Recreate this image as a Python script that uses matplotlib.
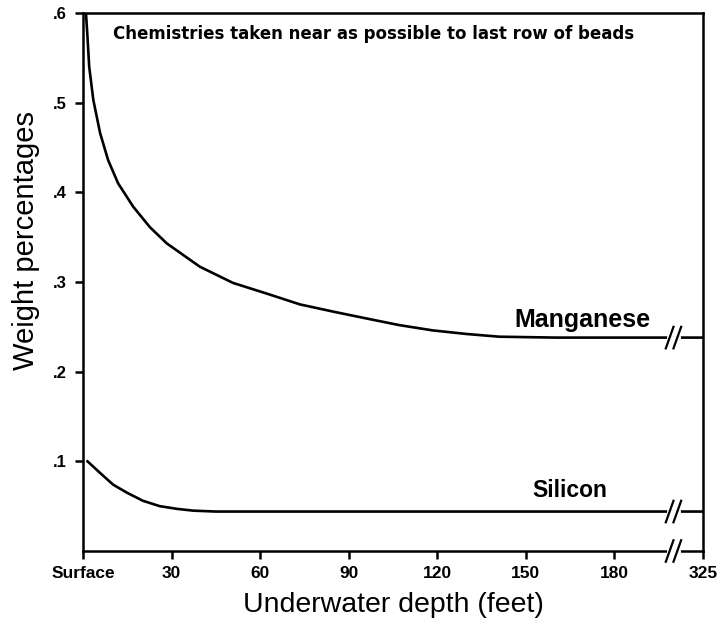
import matplotlib
matplotlib.use("Agg")
import matplotlib.pyplot as plt
import numpy as np

plt.rcParams['font.family'] = ['Liberation Sans', 'DejaVu Sans']

# depth (feet, plotted position) and weight percentages
mn_depth = [1.0, 1.45, 2.1, 3.5, 5.8, 8.5, 11.9, 17, 22.7, 28.4, 39.6, 50.8, 62.3, 73.5,
            84.7, 95, 107, 118.5, 130, 141, 160, 180, 210]
mn_value = [0.600, 0.577, 0.540, 0.503, 0.466, 0.436, 0.410, 0.384, 0.361, 0.343, 0.317,
            0.299, 0.287, 0.275, 0.267, 0.260, 0.252, 0.246, 0.242, 0.239, 0.238, 0.238, 0.238]
si_depth = [1.2, 5.8, 10.2, 14.9, 20.3, 26, 31.8, 37.3, 45, 80, 120, 160, 210]
si_value = [0.101, 0.087, 0.074, 0.065, 0.056, 0.050, 0.047, 0.045, 0.044, 0.044, 0.044, 0.044, 0.044]

x_ticks = [0, 30, 60, 90, 120, 150, 180, 210]
x_tick_labels = ["Surface", "30", "60", "90", "120", "150", "180", "325"]
y_ticks = [0.1, 0.2, 0.3, 0.4, 0.5, 0.6]
y_tick_labels = [".1", ".2", ".3", ".4", ".5", ".6"]

fig = plt.figure(figsize=(7.19, 6.31), dpi=100)
ax = fig.add_axes([83/719, 1 - 551/631, (703-83)/719, (551-13)/631])
ax.set_xlim(0, 210)
ax.set_ylim(0, 0.6)

lw = 1.9
ax.plot(mn_depth, mn_value, color='black', lw=lw, solid_capstyle='butt', solid_joinstyle='round')
ax.plot(si_depth, si_value, color='black', lw=lw, solid_capstyle='butt', solid_joinstyle='round')

for s in ax.spines.values():
    s.set_linewidth(1.8)

ax.set_xticks(x_ticks)
ax.set_xticklabels(x_tick_labels, fontsize=12.5, fontweight='bold')
ax.set_yticks(y_ticks)
ax.set_yticklabels(y_tick_labels, fontsize=12, fontweight='bold')
ax.tick_params(axis='both', direction='out', length=6, width=1.8)
ax.tick_params(axis='y', pad=6)
ax.tick_params(axis='x', pad=5)

# axis break marks
brk_x = 200
for yv in [0.238, 0.044, 0.0]:
    ax.plot([brk_x - 1.5, brk_x + 1.5], [yv, yv], color='white', lw=3.5, clip_on=False, zorder=3)
    for dx in (-1.3, 1.3):
        ax.plot([brk_x + dx - 1.3, brk_x + dx + 1.3], [yv - 0.012, yv + 0.012],
                color='black', lw=1.6, clip_on=False, zorder=4)

ax.text(169, 0.2575, "Manganese", fontsize=18, ha='center', va='center', fontweight='bold')
ax.text(165, 0.068, "Silicon", fontsize=16.5, ha='center', va='center', fontweight='bold')
ax.text(10, 0.577, "Chemistries taken near as possible to last row of beads",
        fontsize=12, ha='left', va='center', fontweight='bold', family='DejaVu Sans')

ax.set_xlabel("Underwater depth (feet)", fontsize=20.5)
ax.set_ylabel("Weight percentages", fontsize=21)
ax.xaxis.set_label_coords((393-83)/620, -(605-551)/538)
ax.yaxis.set_label_coords(-(83-26)/620, (551-240)/538)
ax.xaxis.label.set_va('center')
ax.yaxis.label.set_va('center')

fig.savefig("out.png", dpi=100)
